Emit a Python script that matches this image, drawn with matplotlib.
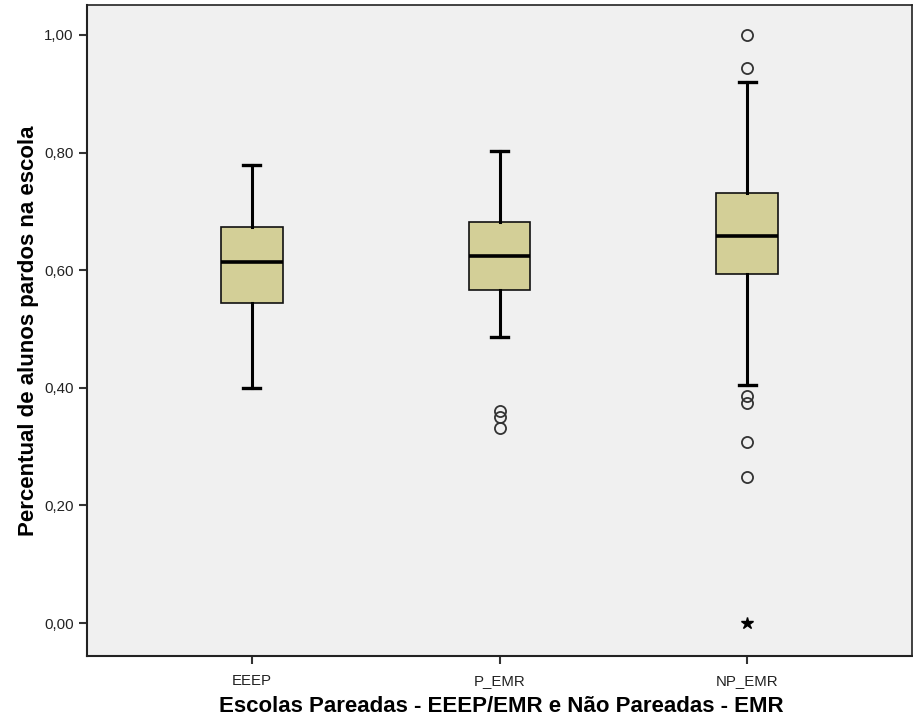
import matplotlib
matplotlib.use("Agg")
import matplotlib.pyplot as plt
from matplotlib.ticker import FuncFormatter

plt.rcParams['font.family'] = ['Liberation Sans', 'DejaVu Sans']

groups = ["EEEP", "P_EMR", "NP_EMR"]
whisker_low = [0.400, 0.486, 0.405]
q1 = [0.544, 0.566, 0.594]
median = [0.614, 0.624, 0.658]
q3 = [0.673, 0.682, 0.731]
whisker_high = [0.779, 0.803, 0.920]
outliers = [[], [0.361, 0.350, 0.332], [1.000, 0.944, 0.386, 0.374, 0.308, 0.248]]
extremes = [[], [], [0.0]]

yticks = [0.0, 0.2, 0.4, 0.6, 0.8, 1.0]

stats = []
for i, g in enumerate(groups):
    stats.append({
        "label": g, "whislo": whisker_low[i], "q1": q1[i], "med": median[i],
        "q3": q3[i], "whishi": whisker_high[i], "fliers": outliers[i],
    })

fig = plt.figure(figsize=(9.13, 7.22), dpi=100)
ax = fig.add_axes([0.0953, 0.0914, 0.9036, 0.9017])
ax.set_facecolor("#F0F0F0")

positions = [1, 2, 3]
ax.bxp(stats, positions=positions, widths=0.25, capwidths=0.07, patch_artist=True,
       boxprops=dict(facecolor="#D3CF97", edgecolor="#111111", linewidth=1.2),
       medianprops=dict(color="black", linewidth=2.6),
       whiskerprops=dict(color="black", linewidth=2.2),
       capprops=dict(color="black", linewidth=2.4),
       flierprops=dict(marker="o", markersize=8, markerfacecolor="none",
                       markeredgecolor="#333333", markeredgewidth=1.3))

for i, vals in enumerate(extremes):
    if vals:
        ax.plot([positions[i]] * len(vals), vals, linestyle="none", marker="*",
                markersize=9, color="black")

ax.set_xlim(0.335, 3.665)
ax.set_ylim(-0.056, 1.051)
ax.set_yticks(yticks)
ax.yaxis.set_major_formatter(FuncFormatter(lambda v, p: f"{v:.2f}".replace(".", ",")))
ax.set_xticks(positions)
ax.set_xticklabels(groups)
ax.tick_params(axis="both", labelsize=10.8, length=6, width=1.5, color="#333333",
               labelcolor="#222222")
ax.tick_params(axis="x", pad=7)

for s in ax.spines.values():
    s.set_color("#222222")
    s.set_linewidth(1.2)
ax.spines["left"].set_linewidth(1.5)
ax.spines["bottom"].set_linewidth(1.5)

ax.set_xlabel("Escolas Pareadas - EEEP/EMR e Não Pareadas - EMR", fontsize=16,
              fontweight="bold")
ax.set_ylabel("Percentual de alunos pardos na escola", fontsize=16,
              fontweight="bold")
ax.xaxis.set_label_coords(0.502, -0.062)
ax.yaxis.set_label_coords(-0.058, 0.50)

fig.savefig("out.png", dpi=100, facecolor="white")
